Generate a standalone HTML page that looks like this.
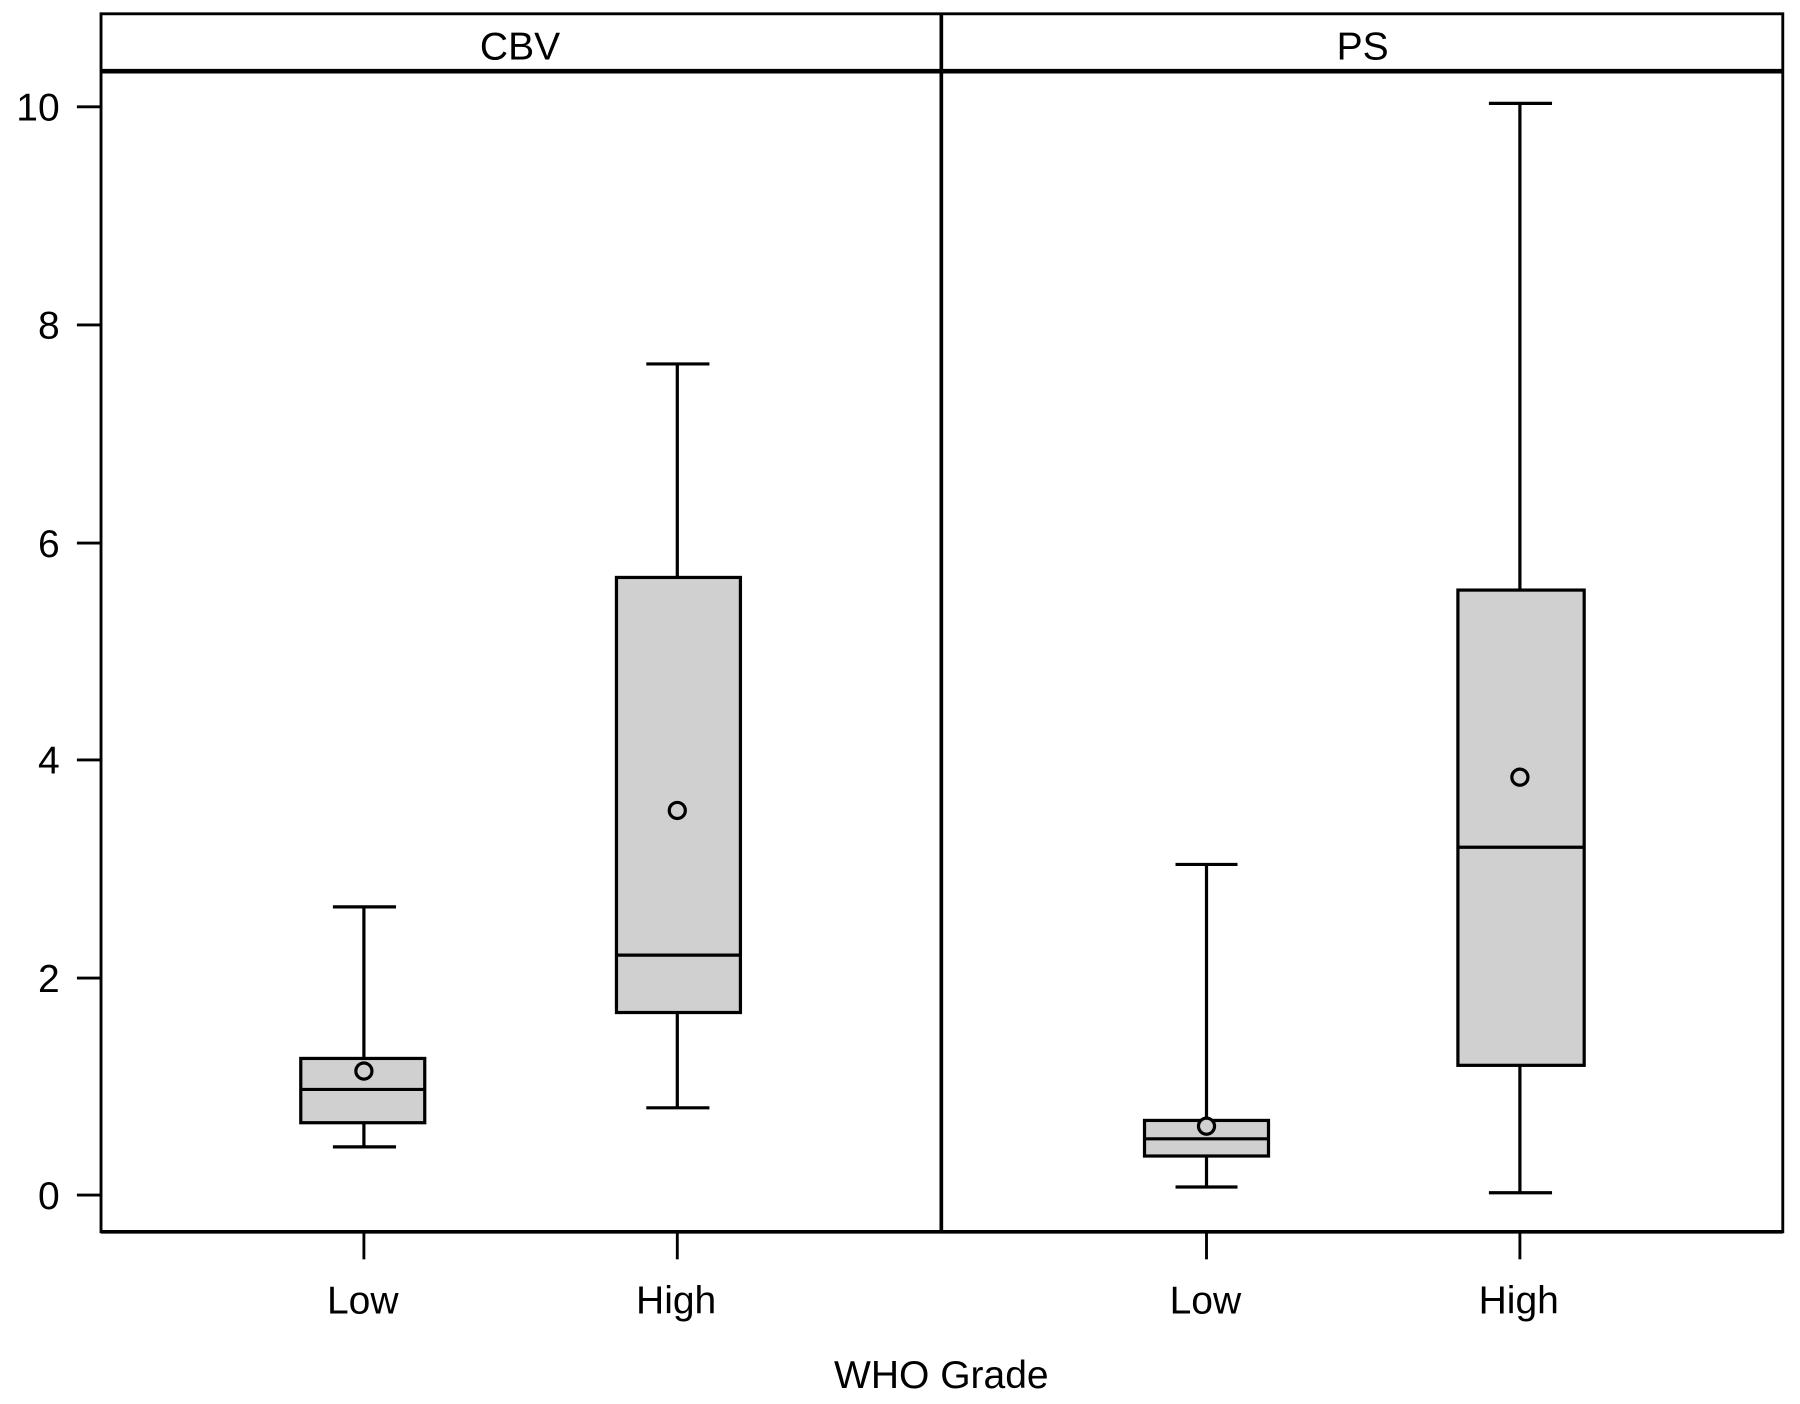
<!DOCTYPE html>
<html><head><meta charset="utf-8"><style>html,body{margin:0;padding:0;background:#fff}svg{display:block}</style></head>
<body>
<svg width="1800" height="1404" viewBox="0 0 1568 1223" xmlns="http://www.w3.org/2000/svg" font-family="Liberation Sans, sans-serif">
<rect width="1568" height="1223" fill="#fff"/>
<g stroke="#000" stroke-width="2.5" fill="none">
<rect x="88" y="12" width="1465" height="1061"/>
<line x1="88" y1="62" x2="1553" y2="62" stroke-width="4"/>
<line x1="820" y1="12" x2="820" y2="1073" stroke-width="3.2"/>
<line x1="88" y1="1073" x2="1553" y2="1073" stroke-width="3.2"/>
<line x1="67" y1="93" x2="88" y2="93"/>
<line x1="67" y1="283" x2="88" y2="283"/>
<line x1="67" y1="473" x2="88" y2="473"/>
<line x1="67" y1="662" x2="88" y2="662"/>
<line x1="67" y1="852" x2="88" y2="852"/>
<line x1="67" y1="1041" x2="88" y2="1041"/>
<line x1="317" y1="1073" x2="317" y2="1097"/>
<line x1="590" y1="1073" x2="590" y2="1097"/>
<line x1="1051" y1="1073" x2="1051" y2="1097"/>
<line x1="1324" y1="1073" x2="1324" y2="1097"/>
</g>
<g stroke="#000" stroke-width="2.8">
<line x1="317" y1="790" x2="317" y2="999"/>
<line x1="290" y1="790" x2="345" y2="790"/><line x1="290" y1="999" x2="345" y2="999"/>
<rect x="262" y="922" width="108" height="56" fill="#d0d0d0"/>
<line x1="262" y1="949" x2="370" y2="949"/>
<circle cx="317" cy="933" r="7" fill="#d0d0d0"/>
<line x1="590" y1="317" x2="590" y2="965"/>
<line x1="563" y1="317" x2="618" y2="317"/><line x1="563" y1="965" x2="618" y2="965"/>
<rect x="537" y="503" width="108" height="379" fill="#d0d0d0"/>
<line x1="537" y1="832" x2="645" y2="832"/>
<circle cx="590" cy="706" r="7" fill="#d0d0d0"/>
<line x1="1051" y1="753" x2="1051" y2="1034"/>
<line x1="1024" y1="753" x2="1078" y2="753"/><line x1="1024" y1="1034" x2="1078" y2="1034"/>
<rect x="997" y="976" width="108" height="31" fill="#d0d0d0"/>
<line x1="997" y1="992" x2="1105" y2="992"/>
<circle cx="1051" cy="981" r="7" fill="#d0d0d0"/>
<line x1="1324" y1="90" x2="1324" y2="1039"/>
<line x1="1297" y1="90" x2="1352" y2="90"/><line x1="1297" y1="1039" x2="1352" y2="1039"/>
<rect x="1270" y="514" width="110" height="414" fill="#d0d0d0"/>
<line x1="1270" y1="738" x2="1380" y2="738"/>
<circle cx="1324" cy="677" r="7" fill="#d0d0d0"/>
</g>
<g font-size="34" fill="#000">
<g text-anchor="end">
<text x="52" y="105">10</text><text x="52" y="295">8</text><text x="52" y="485">6</text>
<text x="52" y="674">4</text><text x="52" y="864">2</text><text x="52" y="1053">0</text>
</g>
<g text-anchor="middle">
<text x="453" y="52">CBV</text><text x="1187" y="52">PS</text>
<text x="316" y="1144">Low</text><text x="589" y="1144">High</text>
<text x="1050" y="1144">Low</text><text x="1323" y="1144">High</text>
<text x="820" y="1209">WHO Grade</text>
</g>
</g>
</svg>
</body></html>
